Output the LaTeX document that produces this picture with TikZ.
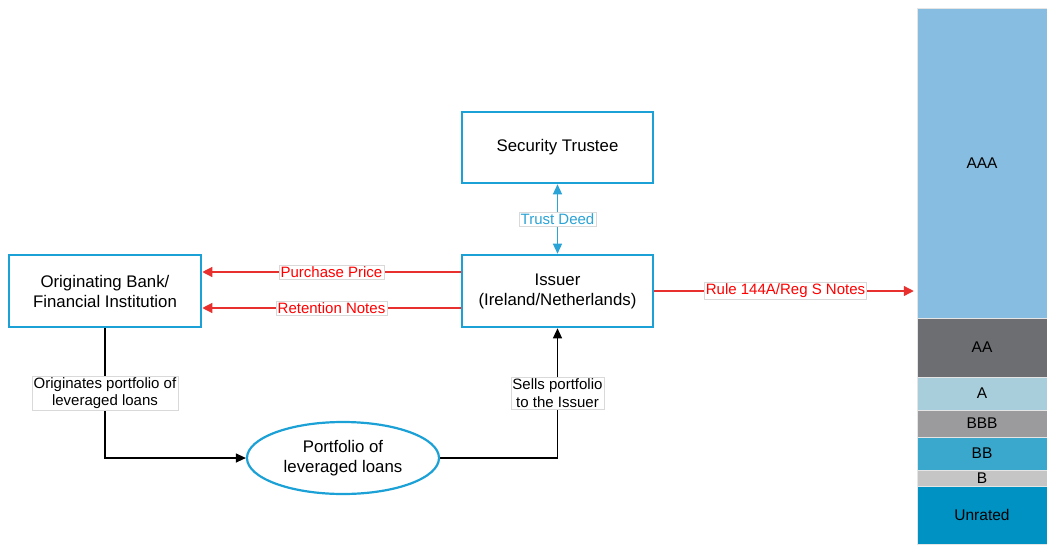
\documentclass[tikz,border=0pt]{standalone}
\usepackage{fontspec}
\setmainfont{Liberation Sans}
\usetikzlibrary{shapes.geometric,arrows.meta,calc}
\definecolor{boxblue}{HTML}{1BA1D6}
\definecolor{deedblue}{HTML}{2AA3D6}
\definecolor{arrred}{HTML}{E8312F}
\definecolor{cAAA}{HTML}{86BDE0}
\definecolor{cAA}{HTML}{6D6E72}
\definecolor{cA}{HTML}{A9CEDB}
\definecolor{cBBB}{HTML}{9B9B9E}
\definecolor{cBB}{HTML}{3AA8CD}
\definecolor{cB}{HTML}{C5C5C5}
\definecolor{cUR}{HTML}{0092C2}
\tikzset{
  box/.style={draw=boxblue, line width=2.6pt, fill=white, align=center,
    font=\fontsize{16.8}{20}\selectfont, inner sep=0pt},
  lbl/.style={fill=white, draw=black!15, line width=0.5pt, inner sep=1.5pt,
    align=center, font=\fontsize{15}{17.5}\selectfont},
  redarr/.style={draw=arrred, line width=1.3pt, -{Triangle[length=10pt,width=10pt]}},
  blkarr/.style={draw=black, line width=1.2pt, -{Triangle[length=10pt,width=9pt]}},
  deedarr/.style={draw=deedblue, line width=1.3pt,
    {Triangle[length=10pt,width=9pt]}-{Triangle[length=10pt,width=9pt]}},
  seg/.style={draw=white!90!black, line width=0.5pt, minimum width=130pt,
    inner sep=0pt, font=\fontsize{15.5}{18}\selectfont, text=black}
}
\begin{document}
\begin{tikzpicture}[x=1pt,y=-1pt]
\useasboundingbox (0,0) rectangle (1047,544);
% main boxes
\node[box, minimum width=191pt, minimum height=71pt] (st) at (557.5,147.5) {Security Trustee};
\node[box, minimum width=191pt, minimum height=72pt] (iss) at (557.5,291) {Issuer\\(Ireland/Netherlands)};
\node[box, minimum width=192pt, minimum height=72pt] (orig) at (105,291) {Originating Bank/\\Financial Institution};
\node[box, ellipse, line width=2.2pt, minimum width=192pt, minimum height=72pt] (port) at (343,458) {Portfolio of\\leveraged loans};
% rating stack
\node[seg, fill=cAAA, minimum height=310pt] (aaa) at (982,163) {AAA};
\node[seg, fill=cAA, minimum height=59pt] (aa) at (982,347.5) {AA};
\node[seg, fill=cA, minimum height=33pt] (a) at (982,393.5) {A};
\node[seg, fill=cBBB, minimum height=27pt] (bbb) at (982,423.5) {BBB};
\node[seg, fill=cBB, minimum height=33pt] (bb) at (982,453.5) {BB};
\node[seg, fill=cB, minimum height=16pt] (b) at (982,478) {B};
\node[seg, fill=cUR, minimum height=58pt] (ur) at (982,515) {Unrated};
% connectors
\draw[redarr] ([yshift=19pt]iss.west) -- node[lbl, text=red, midway] {Purchase Price} ([yshift=19pt]orig.east);
\draw[redarr] ([yshift=-17pt]iss.west) -- node[lbl, text=red, midway] {Retention Notes} ([yshift=-17pt]orig.east);
\draw[redarr, shorten >=3pt] (iss.east) -- node[lbl, text=red, midway] {Rule 144A/Reg S Notes} (iss.east -| aaa.west);
\draw[deedarr] (iss.north) -- node[lbl, text=deedblue, midway] {Trust Deed} (st.south);
\draw[blkarr] (orig.south) |- node[lbl, pos=0.25] {Originates portfolio of\\leveraged loans} (port.west);
\draw[blkarr] (port.east) -| node[lbl, pos=0.75] {Sells portfolio\\to the Issuer} (iss.south);
\end{tikzpicture}
\end{document}
